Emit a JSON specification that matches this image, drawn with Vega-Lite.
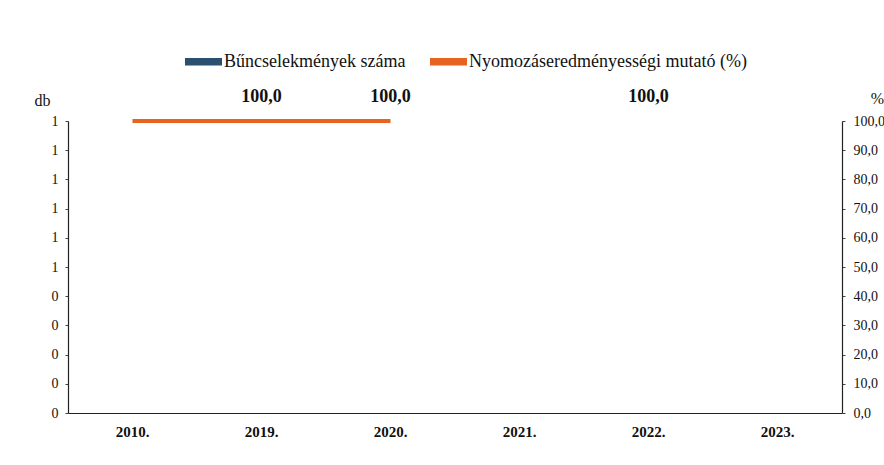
{
  "$schema": "https://vega.github.io/schema/vega-lite/v6.json",
  "width": 774,
  "height": 292,
  "autosize": {"type": "none"},
  "padding": {"left": 68, "top": 121, "right": 42, "bottom": 52},
  "background": "white",
  "config": {
    "font": "Liberation Serif",
    "view": {"stroke": null},
    "axis": {"grid": false, "labelOverlap": false, "domainColor": "#222", "tickColor": "#444", "labelColor": "#111", "titleColor": "#111", "labelFont": "Liberation Serif", "titleFont": "Liberation Serif"}
  },
  "data": {
    "values": [
      {"year": "2010.", "count": 0, "pct": 100, "lbl": null},
      {"year": "2019.", "count": 0, "pct": 100, "lbl": "100,0"},
      {"year": "2020.", "count": 0, "pct": 100, "lbl": "100,0"},
      {"year": "2021.", "count": 0, "pct": null, "lbl": null},
      {"year": "2022.", "count": 0, "pct": 100, "lbl": "100,0"},
      {"year": "2023.", "count": 0, "pct": null, "lbl": null}
    ]
  },
  "encoding": {
    "x": {
      "field": "year", "type": "nominal", "sort": null, "title": null,
      "scale": {"paddingInner": 0.4, "paddingOuter": 0.2},
      "axis": {"labelAngle": 0, "ticks": false, "labelPadding": 11, "labelFontSize": 15, "labelFontWeight": "bold", "domainWidth": 1.2}
    }
  },
  "layer": [
    {
      "mark": {"type": "bar", "color": "#2b4f6e"},
      "encoding": {
        "y": {
          "field": "count", "type": "quantitative", "scale": {"domain": [0, 1], "nice": false},
          "axis": {"values": [0, 0.1, 0.2, 0.3, 0.4, 0.5, 0.6, 0.7, 0.8, 0.9, 1], "labelExpr": "datum.value >= 0.5 ? '1' : '0'", "labelOverlap": false, "tickSize": 3, "labelPadding": 7, "labelFontSize": 14, "domainWidth": 1.2, "title": "db", "titleAngle": 0, "titleFontSize": 16, "titleFontWeight": "normal", "titleX": -26, "titleY": -16, "titleAlign": "center", "titleBaseline": "alphabetic"}
        },
        "color": {
          "datum": "Bűncselekmények száma",
          "type": "nominal",
          "scale": {"domain": ["Bűncselekmények száma", "Nyomozáseredményességi mutató (%)"], "range": ["#2b4f6e", "#e6641f"]},
          "legend": {
            "title": null, "orient": "none", "direction": "horizontal", "legendX": 117, "legendY": -78,
            "symbolType": "M-1,-0.2H1V0.2H-1Z", "symbolSize": 1369, "symbolStrokeWidth": 0,
            "labelFont": "Liberation Serif", "labelFontSize": 18, "labelColor": "#111", "labelOffset": 2, "labelLimit": 500, "columnPadding": 24,
            "encode": {"symbols": {"update": {"shape": {"value": "M-1,-0.2H1V0.2H-1Z"}, "size": {"value": 1369}, "fill": {"scale": "color", "field": "value"}, "fillOpacity": {"value": 1}, "strokeWidth": {"value": 0}}}}
          }
        }
      }
    },
    {
      "layer": [
        {
          "mark": {"type": "line", "strokeWidth": 4, "invalid": "break-paths-show-domains", "strokeCap": "butt"},
          "encoding": {
            "y": {"field": "pct", "type": "quantitative", "scale": {"domain": [0, 100], "nice": false},
              "axis": {"orient": "right", "values": [0, 10, 20, 30, 40, 50, 60, 70, 80, 90, 100], "labelExpr": "replace(format(datum.value, '.1f'), '.', ',')", "labelOverlap": false, "tickSize": 3, "labelPadding": 8, "labelFontSize": 14, "domainWidth": 1.2, "title": "%", "titleAngle": 0, "titleFontSize": 16, "titleFontWeight": "normal", "titleX": 35, "titleY": -18, "titleAlign": "center", "titleBaseline": "alphabetic"}},
            "color": {"datum": "Nyomozáseredményességi mutató (%)", "type": "nominal"}
          }
        },
        {
          "transform": [{"filter": "datum.lbl != null"}],
          "mark": {"type": "text", "dy": -24, "fontSize": 18, "fontWeight": "bold", "font": "Liberation Serif", "color": "#111"},
          "encoding": {
            "y": {
              "field": "pct", "type": "quantitative", "scale": {"domain": [0, 100], "nice": false},
              "axis": {"orient": "right", "values": [0, 10, 20, 30, 40, 50, 60, 70, 80, 90, 100], "labelExpr": "replace(format(datum.value, '.1f'), '.', ',')", "labelOverlap": false, "tickSize": 3, "labelPadding": 8, "labelFontSize": 14, "domainWidth": 1.2, "title": "%", "titleAngle": 0, "titleFontSize": 16, "titleFontWeight": "normal", "titleX": 35, "titleY": -18, "titleAlign": "center", "titleBaseline": "alphabetic"}
            },
            "text": {"field": "lbl"}
          }
        }
      ]
    }
  ],
  "resolve": {"scale": {"y": "independent"}, "axis": {"y": "independent"}}
}
